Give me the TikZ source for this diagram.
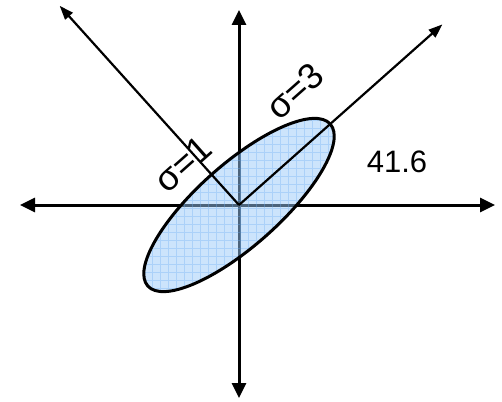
\documentclass[tikz,border=0pt]{standalone}
\usepackage{fontspec}
\setmainfont{Liberation Sans}
\usetikzlibrary{arrows.meta}
\definecolor{efill}{RGB}{153,201,249}
\definecolor{egrid}{RGB}{110,175,245}
\begin{document}
\begin{tikzpicture}[x=1pt,y=-1pt,
  axis/.style={line width=3pt,{Triangle[length=15pt,width=14pt]}-{Triangle[length=15pt,width=14pt]}},
  dirarrow/.style={line width=2.2pt,-{Triangle[length=14pt,width=10pt]}},
  lbl/.style={font=\fontsize{31}{31}\selectfont, inner sep=0pt},
  siglbl/.style={font=\fontsize{36}{36}\selectfont, inner sep=0pt, rotate=41.6}]
\useasboundingbox (0,0) rectangle (502,401);
\coordinate (C) at (239,205);
\coordinate (L) at (20,205);
\coordinate (R) at (495,205);
\coordinate (T) at (239,10);
\coordinate (B) at (239,398);
\coordinate (Maj) at ([shift={(41.6:272pt)}]C);
\coordinate (Min) at ([shift={(132:268pt)}]C);
\draw[axis] (L) -- (R);
\draw[axis] (T) -- (B);
\begin{scope}
  \clip (C) ellipse [x radius=122, y radius=41, rotate=41.6];
  \fill[efill, fill opacity=0.5] (C) ellipse [x radius=122, y radius=41, rotate=41.6];
  \draw[egrid, opacity=0.35, line width=0.9pt, step=8pt] (100,70) grid (380,340);
\end{scope}
\draw[line width=3pt] (C) ellipse [x radius=122, y radius=41, rotate=41.6];
\draw[dirarrow] (C) -- (Maj);
\draw[dirarrow] (C) -- (Min);
\node[siglbl] (s3) at (295,91) {σ=3};
\node[siglbl] (s1) at (183,164) {σ=1};
\node[lbl] (ang) at (397,162) {41.6};
\end{tikzpicture}
\end{document}
